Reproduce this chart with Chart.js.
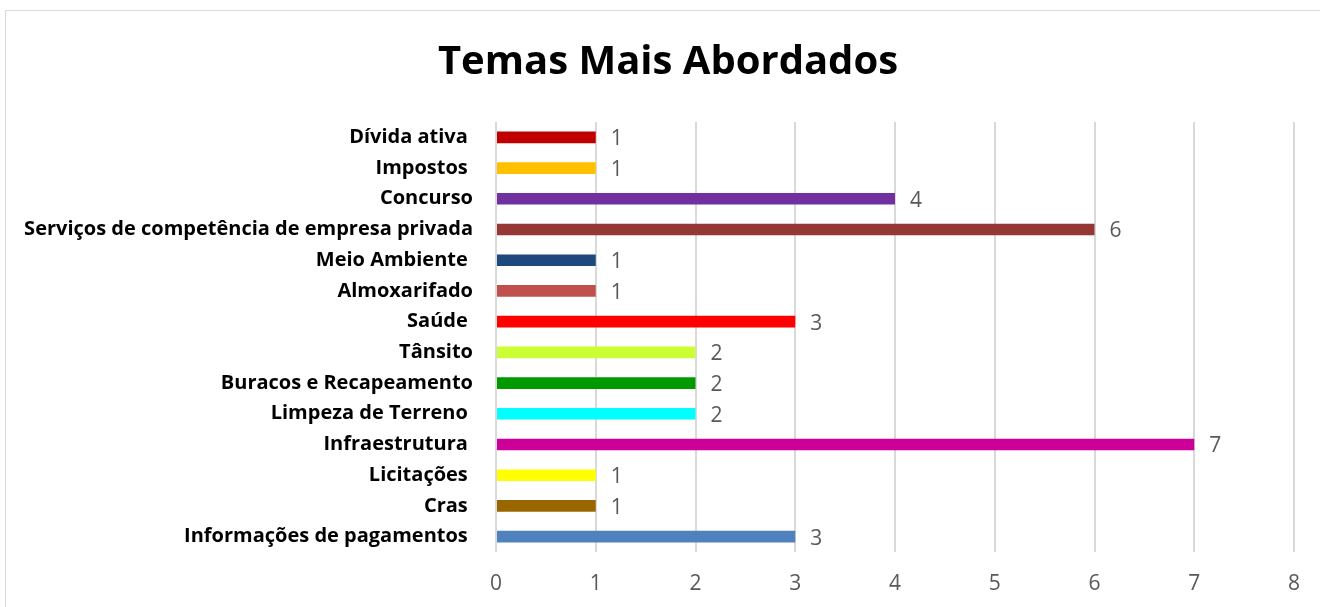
<!DOCTYPE html>
<html>
<head>
<meta charset="utf-8">
<script src="https://cdn.jsdelivr.net/npm/chart.js@4.4.1/dist/chart.umd.min.js"></script>
<style>
  html, body { margin: 0; padding: 0; background: #ffffff; }
  #wrap { position: relative; width: 1320px; height: 607px; }
</style>
</head>
<body>
<div id="wrap"><canvas id="c" width="1320" height="607"></canvas></div>
<script>
const categories = [
  "Dívida ativa ",
  "Impostos ",
  "Concurso",
  "Serviços de competência de empresa privada",
  "Meio Ambiente ",
  "Almoxarifado",
  "Saúde ",
  "Tânsito",
  "Buracos e Recapeamento",
  "Limpeza de Terreno ",
  "Infraestrutura ",
  "Licitações ",
  "Cras ",
  "Informações de pagamentos "
];
const values = [1, 1, 4, 6, 1, 1, 3, 2, 2, 2, 7, 1, 1, 3];
const barColors = [
  "#C00000", "#FFC000", "#7030A0", "#953735", "#1F497D", "#C0504D", "#FF0000",
  "#CCFF33", "#009900", "#00FFFF", "#CC0099", "#FFFF00", "#996600", "#4F81BD"
];
const xTicks = [0, 1, 2, 3, 4, 5, 6, 7, 8];
const chartTitle = "Temas Mais Abordados";

const FONT = '"Open Sans", Lato, sans-serif';

const frame = {
  id: 'frame',
  beforeDraw(chart) {
    const ctx = chart.ctx;
    ctx.save();
    ctx.fillStyle = '#ffffff';
    ctx.fillRect(0, 0, chart.width, chart.height);
    ctx.strokeStyle = '#d9d9d9';
    ctx.lineWidth = 1;
    ctx.strokeRect(5.5, 10.5, 1400, 700);
    ctx.restore();
  },
  afterLayout(chart) {
    if (chart.titleBlock) { chart.titleBlock.left = 42; }
  }
};

const valueLabels = {
  id: 'valueLabels',
  afterDatasetsDraw(chart) {
    const ctx = chart.ctx;
    const meta = chart.getDatasetMeta(0);
    ctx.save();
    ctx.fillStyle = '#595959';
    ctx.font = '21px ' + FONT;
    ctx.textAlign = 'left';
    ctx.textBaseline = 'middle';
    meta.data.forEach((bar, i) => {
      ctx.fillText(String(values[i]), bar.x + 15, bar.y + 2);
    });
    ctx.restore();
  }
};

new Chart(document.getElementById('c'), {
  type: 'bar',
  data: {
    labels: categories,
    datasets: [{
      data: values,
      backgroundColor: barColors,
      borderWidth: 0,
      categoryPercentage: 1,
      barPercentage: 0.38
    }]
  },
  options: {
    indexAxis: 'y',
    responsive: false,
    animation: false,
    layout: { padding: { left: 0, right: 26, top: 0, bottom: 0 } },
    plugins: {
      legend: { display: false },
      tooltip: { enabled: false },
      title: {
        display: true,
        text: chartTitle,
        color: '#000000',
        font: { family: FONT, size: 40, weight: 'bold', lineHeight: 1.2 },
        padding: { top: 39, bottom: 35 }
      }
    },
    scales: {
      x: {
        min: 0,
        max: 8,
        afterBuildTicks(scale) { scale.ticks = xTicks.map(v => ({ value: v })); },
        afterFit(scale) { scale.height = 55; },
        grid: { color: '#d9d9d9', lineWidth: 2, drawTicks: false },
        border: { display: false },
        ticks: {
          color: '#595959',
          padding: 19,
          font: { family: FONT, size: 21 }
        }
      },
      y: {
        afterFit(scale) { scale.width = 496; },
        grid: { display: false, drawTicks: false },
        border: { display: false },
        ticks: {
          color: '#000000',
          padding: 23,
          autoSkip: false,
          font: { family: FONT, size: 20, weight: 'bold' }
        }
      }
    }
  },
  plugins: [frame, valueLabels]
});
</script>
</body>
</html>
